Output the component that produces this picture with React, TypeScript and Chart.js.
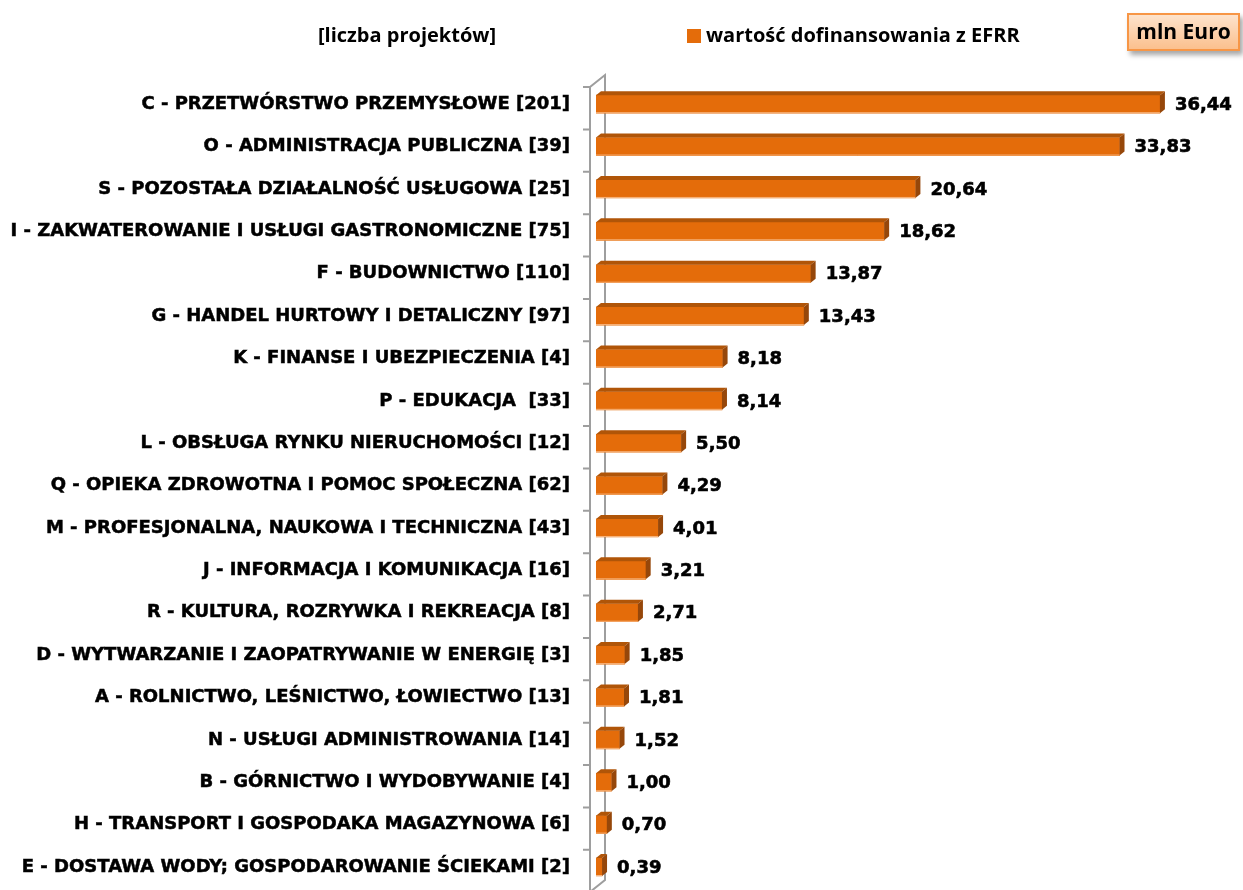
import React, { useEffect, useRef } from "react";
import { Chart, registerables } from "chart.js";

Chart.register(...registerables);

const categories: string[] = [
  "C - PRZETWÓRSTWO PRZEMYSŁOWE [201]",
  "O - ADMINISTRACJA PUBLICZNA [39]",
  "S - POZOSTAŁA DZIAŁALNOŚĆ USŁUGOWA [25]",
  "I - ZAKWATEROWANIE I USŁUGI GASTRONOMICZNE [75]",
  "F - BUDOWNICTWO [110]",
  "G - HANDEL HURTOWY I DETALICZNY [97]",
  "K - FINANSE I UBEZPIECZENIA [4]",
  "P - EDUKACJA  [33]",
  "L - OBSŁUGA RYNKU NIERUCHOMOŚCI [12]",
  "Q - OPIEKA ZDROWOTNA I POMOC SPOŁECZNA [62]",
  "M - PROFESJONALNA, NAUKOWA I TECHNICZNA [43]",
  "J - INFORMACJA I KOMUNIKACJA [16]",
  "R - KULTURA, ROZRYWKA I REKREACJA [8]",
  "D - WYTWARZANIE I ZAOPATRYWANIE W ENERGIĘ [3]",
  "A - ROLNICTWO, LEŚNICTWO, ŁOWIECTWO [13]",
  "N - USŁUGI ADMINISTROWANIA [14]",
  "B - GÓRNICTWO I WYDOBYWANIE [4]",
  "H - TRANSPORT I GOSPODAKA MAGAZYNOWA [6]",
  "E - DOSTAWA WODY; GOSPODAROWANIE ŚCIEKAMI [2]",
];

const values: number[] = [
  36.44, 33.83, 20.64, 18.62, 13.87, 13.43, 8.18, 8.14, 5.5, 4.29, 4.01, 3.21,
  2.71, 1.85, 1.81, 1.52, 1.0, 0.7, 0.39,
];

const seriesLabel = "wartość dofinansowania z EFRR";
const leftHeader = "[liczba projektów]";
const unitLabel = "mln Euro";

const LABEL_FONT = "'DejaVu Sans', sans-serif";
const HEAD_FONT = "'Open Sans', sans-serif";
const FRONT = "#E46C0A";
const TOP = "#B05508";
const SIDE = "#96470A";
const DX = 5;
const DY = 4;

const fmt = (v: number) => v.toFixed(2).replace(".", ",");

const wallPlugin = {
  id: "wall3d",
  beforeDatasetsDraw(chart: any) {
    const { ctx, chartArea } = chart;
    const frontX = chartArea.left - 6;
    const backX = chartArea.left + 9;
    const topFront = chartArea.top + 4;
    const topBack = topFront - 12;
    const h = chart.height;
    ctx.save();
    ctx.strokeStyle = "#9e9e9e";
    ctx.lineWidth = 2;
    ctx.beginPath();
    ctx.moveTo(frontX, h + 10);
    ctx.lineTo(frontX, topFront);
    ctx.lineTo(backX, topBack);
    ctx.lineTo(backX, h - 10);
    ctx.lineTo(frontX, h + 2);
    ctx.stroke();
    const n = categories.length;
    const band = (chartArea.bottom - chartArea.top) / n;
    ctx.beginPath();
    for (let i = 0; i <= n; i++) {
      const y = chartArea.top + i * band + 4;
      ctx.moveTo(frontX - 7, y);
      ctx.lineTo(frontX, y);
    }
    ctx.stroke();
    ctx.restore();
  },
};

const bar3dPlugin = {
  id: "bar3d",
  afterDatasetsDraw(chart: any) {
    const { ctx } = chart;
    const meta = chart.getDatasetMeta(0);
    ctx.save();
    meta.data.forEach((el: any, i: number) => {
      const x = el.x;
      const base = el.base;
      const top = el.y - el.height / 2;
      const bottom = el.y + el.height / 2;
      ctx.fillStyle = TOP;
      ctx.beginPath();
      ctx.moveTo(base, top);
      ctx.lineTo(base + DX, top - DY);
      ctx.lineTo(x + DX, top - DY);
      ctx.lineTo(x, top);
      ctx.closePath();
      ctx.fill();
      ctx.fillStyle = SIDE;
      ctx.beginPath();
      ctx.moveTo(x, top);
      ctx.lineTo(x + DX, top - DY);
      ctx.lineTo(x + DX, bottom - DY);
      ctx.lineTo(x, bottom);
      ctx.closePath();
      ctx.fill();
      ctx.strokeStyle = "rgba(250,190,140,0.9)";
      ctx.lineWidth = 1;
      ctx.beginPath();
      ctx.moveTo(base, bottom - 0.5);
      ctx.lineTo(x, bottom - 0.5);
      ctx.stroke();
      ctx.fillStyle = "#000";
      ctx.strokeStyle = "#000";
      ctx.lineWidth = 0.6;
      ctx.font = `bold 18px ${LABEL_FONT}`;
      ctx.textAlign = "left";
      ctx.textBaseline = "middle";
      ctx.fillText(fmt(values[i]), x + DX + 10, el.y + 1);
      ctx.strokeText(fmt(values[i]), x + DX + 10, el.y + 1);
    });
    ctx.restore();
  },
};

export default function App() {
  const ref = useRef<HTMLCanvasElement>(null);
  useEffect(() => {
    if (!ref.current) return;
    const chart = new Chart(ref.current, {
      type: "bar",
      data: {
        labels: categories,
        datasets: [
          {
            label: seriesLabel,
            data: values,
            backgroundColor: FRONT,
            borderWidth: 0,
            barThickness: 18,
          },
        ],
      },
      options: {
        indexAxis: "y",
        responsive: false,
        animation: false,
        layout: { padding: { top: 83, bottom: 1, right: 28, left: 0 } },
        plugins: { legend: { display: false }, tooltip: { enabled: false } },
        scales: {
          x: { display: false, min: 0, max: 40 },
          y: {
            afterFit: (scale: any) => {
              scale.width = 596;
            },
            grid: { display: false, drawTicks: true, tickLength: 26 },
            border: { display: false },
            ticks: {
              padding: 0,
              color: "#000",
              textStrokeColor: "#000",
              textStrokeWidth: 0.5,
              font: { family: LABEL_FONT, size: 18, weight: "bold", lineHeight: 0.2 },
              crossAlign: "near",
              autoSkip: false,
            },
          },
        },
      },
      plugins: [wallPlugin, bar3dPlugin],
    });
    return () => chart.destroy();
  }, []);

  return (
    <div style={{ position: "fixed", left: 0, top: 0, width: 1243, height: 890, background: "#fff", overflow: "hidden" }}>
      <canvas ref={ref} width={1243} height={890} style={{ position: "absolute", left: 0, top: 0 }} />
      <div style={{ position: "absolute", left: 318, top: 22, fontFamily: HEAD_FONT, fontWeight: 700, fontSize: 20, lineHeight: "26px", color: "#000" }}>
        {leftHeader}
      </div>
      <div style={{ position: "absolute", left: 687, top: 22, display: "flex", alignItems: "center", fontFamily: HEAD_FONT, fontWeight: 700, fontSize: 20, lineHeight: "26px", color: "#000" }}>
        <span style={{ display: "inline-block", width: 14, height: 14, background: FRONT, marginRight: 5, marginTop: 2 }} />
        {seriesLabel}
      </div>
      <div
        style={{
          position: "absolute",
          left: 1127,
          top: 13,
          width: 113,
          height: 38,
          boxSizing: "border-box",
          border: "2px solid #F79646",
          background: "linear-gradient(#FDE3CC, #FBC08E)",
          boxShadow: "3px 4px 5px rgba(0,0,0,0.35)",
          fontFamily: HEAD_FONT,
          fontWeight: 700,
          fontSize: 21,
          lineHeight: "33px",
          textAlign: "center",
          color: "#000",
        }}
      >
        {unitLabel}
      </div>
    </div>
  );
}
